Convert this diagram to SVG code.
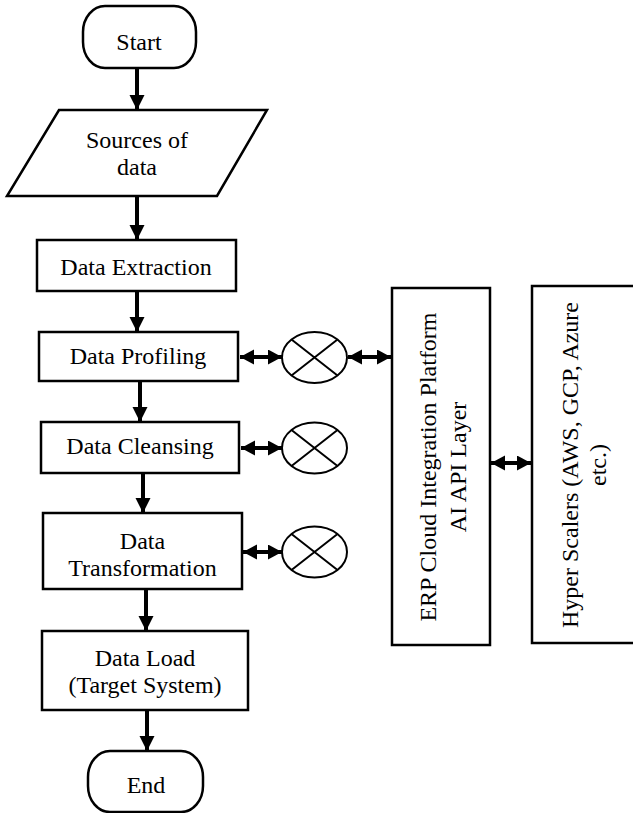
<svg xmlns="http://www.w3.org/2000/svg" width="633" height="813" viewBox="0 0 633 813">
<style>
.box{fill:#fff;stroke:#000;stroke-width:2.5}
.t{font-family:"Liberation Serif","Times New Roman",serif;font-size:24px;fill:#000;text-anchor:middle}
.v{stroke:#000;stroke-width:4;fill:none;marker-end:url(#ah)}
.d{stroke:#000;stroke-width:4;fill:none;marker-start:url(#dh);marker-end:url(#dh)}
.x{stroke:#000;stroke-width:2;fill:none}
</style>
<defs>
<marker id="ah" markerUnits="userSpaceOnUse" markerWidth="16" markerHeight="16" refX="15" refY="7.5" orient="auto"><path d="M0,0 L15,7.5 L0,15 z" fill="#000"/></marker>
<marker id="dh" markerUnits="userSpaceOnUse" markerWidth="16" markerHeight="16" refX="14" refY="7.5" orient="auto-start-reverse"><path d="M0,0 L14,7.5 L0,15 z" fill="#000"/></marker>
</defs>
<rect width="633" height="813" fill="#fff"/>
<g id="connectors">
<line class="v" x1="137" y1="68" x2="137" y2="110"/>
<line class="v" x1="137" y1="196" x2="137" y2="240"/>
<line class="v" x1="137" y1="291" x2="137" y2="332"/>
<line class="v" x1="140" y1="381" x2="140" y2="422"/>
<line class="v" x1="143" y1="473" x2="143" y2="513"/>
<line class="v" x1="146" y1="589" x2="146" y2="631"/>
<line class="v" x1="147" y1="710" x2="147" y2="751"/>
<line class="d" x1="240" y1="357" x2="282" y2="357"/>
<line class="d" x1="348" y1="357" x2="391" y2="357"/>
<line class="d" x1="241" y1="448" x2="282" y2="448"/>
<line class="d" x1="243" y1="552" x2="282" y2="552"/>
<line class="d" x1="491" y1="463" x2="531" y2="463"/>
</g>
<g id="start"><rect class="box" x="83" y="6" width="113" height="62" rx="22" ry="26"/><text class="t" x="139" y="50">Start</text></g>
<g id="sources"><polygon class="box" points="59,110 267,110 217,196 7,196"/><text class="t" x="137" y="148">Sources of</text><text class="t" x="137" y="175">data</text></g>
<g id="extraction"><rect class="box" x="37" y="240" width="199" height="51"/><text class="t" x="136" y="275">Data Extraction</text></g>
<g id="profiling"><rect class="box" x="39" y="332" width="199" height="49"/><text class="t" x="138" y="364">Data Profiling</text></g>
<g id="cleansing"><rect class="box" x="41" y="422" width="198" height="51"/><text class="t" x="140" y="454">Data Cleansing</text></g>
<g id="transformation"><rect class="box" x="43" y="513" width="199" height="76"/><text class="t" x="142.5" y="549">Data</text><text class="t" x="142.5" y="576">Transformation</text></g>
<g id="load"><rect class="box" x="42" y="631" width="206" height="79"/><text class="t" x="145" y="666">Data Load</text><text class="t" x="145" y="693">(Target System)</text></g>
<g id="end"><rect class="box" x="88" y="751" width="115" height="61" rx="22" ry="26"/><text class="t" x="146" y="793">End</text></g>
<g id="sum1"><ellipse class="x" cx="314.5" cy="357.5" rx="32.5" ry="25.5"/><path class="x" d="M291.5,339.5 L337.5,375.5 M337.5,339.5 L291.5,375.5"/></g>
<g id="sum2"><ellipse class="x" cx="314.5" cy="448" rx="32.5" ry="25.5"/><path class="x" d="M291.5,430 L337.5,466 M337.5,430 L291.5,466"/></g>
<g id="sum3"><ellipse class="x" cx="314.5" cy="552" rx="32.5" ry="25.5"/><path class="x" d="M291.5,534 L337.5,570 M337.5,534 L291.5,570"/></g>
<g id="erp"><rect class="box" x="392" y="288" width="98" height="357"/><text class="t" transform="translate(441,467) rotate(-90)"><tspan x="0" y="-5">ERP Cloud Integration Platform</tspan><tspan x="0" y="25">AI API Layer</tspan></text></g>
<g id="hyper"><rect class="box" x="532" y="286" width="120" height="357"/><text class="t" transform="translate(582,465) rotate(-90)"><tspan x="0" y="-4">Hyper Scalers (AWS, GCP, Azure</tspan><tspan x="0" y="24">etc.)</tspan></text></g>
</svg>
